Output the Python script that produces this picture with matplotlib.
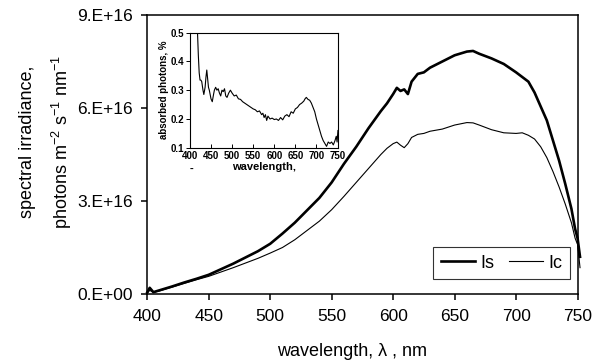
import matplotlib
matplotlib.use("Agg")
import matplotlib.pyplot as plt

plt.rcParams['font.family'] = ['Liberation Sans', 'DejaVu Sans']
plt.rcParams['mathtext.fontset'] = 'custom'
plt.rcParams['mathtext.rm'] = 'Liberation Sans'
plt.rcParams['mathtext.it'] = 'Liberation Sans:italic'

# main spectra (values in units of 1e16 photons m-2 s-1 nm-1)
wavelength = [400, 402, 405, 410, 420, 430, 440, 450, 460, 470, 480, 490, 500,
              510, 520, 530, 540, 550, 560, 570, 580, 590, 595, 600, 603, 606,
              609, 612, 615, 620, 625, 630, 640, 650, 660, 665, 670, 680, 690,
              700, 705, 710, 715, 720, 725, 730, 735, 740, 745, 748, 750, 752]
Is = [0.05, 0.2, 0.06, 0.12, 0.24, 0.37, 0.49, 0.62, 0.8, 0.98, 1.18, 1.38, 1.62,
      1.95, 2.3, 2.7, 3.1, 3.6, 4.2, 4.75, 5.35, 5.9, 6.15, 6.45, 6.65, 6.55,
      6.6, 6.45, 6.85, 7.1, 7.15, 7.3, 7.5, 7.7, 7.82, 7.84, 7.75, 7.6, 7.42,
      7.15, 7.0, 6.85, 6.5, 6.05, 5.6, 4.95, 4.3, 3.55, 2.75, 2.1, 1.8, 1.2]
Ic = [0.03, 0.12, 0.05, 0.1, 0.22, 0.34, 0.46, 0.57, 0.71, 0.85, 1.0, 1.15, 1.32,
      1.5, 1.75, 2.05, 2.35, 2.72, 3.15, 3.6, 4.05, 4.5, 4.7, 4.85, 4.9, 4.8,
      4.72, 4.85, 5.05, 5.15, 5.18, 5.25, 5.32, 5.45, 5.53, 5.52, 5.45, 5.3, 5.2,
      5.18, 5.2, 5.12, 5.0, 4.75, 4.4, 3.95, 3.45, 2.9, 2.3, 1.8, 1.6, 0.85]

# inset: absorbed photons
ins_wl = [418, 420, 422, 424, 426, 428, 431, 433, 436, 438, 440, 442, 444, 446,
          448, 450, 453, 456, 458, 461, 464, 467, 470, 473, 476, 479, 482, 485,
          488, 492, 496, 500, 505, 510, 515, 520, 525, 530, 535, 540, 545, 550,
          555, 560, 565, 570, 573, 576, 579, 582, 585, 590, 595, 600, 605, 610,
          615, 620, 625, 630, 635, 640, 645, 650, 655, 660, 665, 670, 673, 676,
          680, 684, 688, 692, 696, 700, 704, 708, 712, 716, 720, 724, 728, 732,
          736, 740, 744, 747, 749, 751]
ins_abs = [0.50, 0.42, 0.36, 0.335, 0.335, 0.33, 0.30, 0.285, 0.31, 0.345, 0.37,
           0.34, 0.31, 0.30, 0.285, 0.27, 0.26, 0.285, 0.30, 0.31, 0.30, 0.305,
           0.29, 0.28, 0.30, 0.295, 0.305, 0.28, 0.275, 0.29, 0.30, 0.29, 0.28,
           0.283, 0.27, 0.268, 0.26, 0.255, 0.25, 0.245, 0.24, 0.235, 0.232,
           0.225, 0.228, 0.215, 0.22, 0.205, 0.215, 0.195, 0.21, 0.20, 0.203,
           0.198, 0.20, 0.195, 0.205, 0.197, 0.21, 0.215, 0.208, 0.225, 0.22,
           0.235, 0.24, 0.25, 0.255, 0.262, 0.27, 0.275, 0.268, 0.265, 0.255,
           0.24, 0.225, 0.20, 0.18, 0.16, 0.14, 0.125, 0.115, 0.105, 0.12,
           0.115, 0.12, 0.11, 0.125, 0.14, 0.12, 0.16]

y_ticks = [0, 3e16, 6e16, 9e16]
y_tick_labels = ["0.E+00", "3.E+16", "6.E+16", "9.E+16"]
x_ticks = [400, 450, 500, 550, 600, 650, 700, 750]

fig = plt.figure(figsize=(6.01, 3.64), dpi=100)
ax = fig.add_axes([0.245, 0.1923, 0.716, 0.7665])

ax.plot(wavelength, [v * 1e16 for v in Is], color='black', lw=1.9, label='Is', clip_on=False)
ax.plot(wavelength, [v * 1e16 for v in Ic], color='black', lw=0.8, label='Ic', clip_on=False)

ax.set_xlim(400, 750)
ax.set_ylim(0, 9e16)
ax.set_xticks(x_ticks)
ax.set_yticks(y_ticks)
ax.set_yticklabels(y_tick_labels)
ax.tick_params(direction='out', length=4.5, width=1.1, labelsize=12.5, pad=6)
for s in ax.spines.values():
    s.set_linewidth(1.1)

fig.text(0.045, 0.61, "spectral irradiance,", rotation=90, fontsize=13,
         ha='center', va='center')
fig.text(0.103, 0.61, "photons m$^{-2}$ s$^{-1}$ nm$^{-1}$", rotation=90, fontsize=13,
         ha='center', va='center')
fig.text(0.585, 0.035, "wavelength, λ , nm", fontsize=13, ha='center', va='center')

leg = ax.legend(loc='lower right', bbox_to_anchor=(0.982, 0.054), ncol=2,
                fontsize=13, frameon=True, fancybox=False, borderaxespad=0,
                handlelength=1.9, handletextpad=0.3, columnspacing=0.8,
                borderpad=0.4)
leg.get_frame().set_edgecolor('black')
leg.get_frame().set_linewidth(0.8)

# inset
axi = fig.add_axes([0.316, 0.594, 0.247, 0.3165])
axi.plot(ins_wl, ins_abs, color='black', lw=0.8)
axi.set_xlim(400, 752)
axi.set_ylim(0.1, 0.5)
axi.set_xticks(x_ticks)
axi.set_yticks([0.1, 0.2, 0.3, 0.4, 0.5])
axi.tick_params(axis='x', direction='in', length=3, width=0.7, labelsize=7, pad=2)
axi.tick_params(axis='y', direction='out', length=3, width=0.7, labelsize=7, pad=1)
for lab in axi.get_xticklabels() + axi.get_yticklabels():
    lab.set_fontweight('bold')
for s in axi.spines.values():
    s.set_linewidth(0.8)
axi.set_ylabel("absorbed photons, %", fontsize=7, fontweight='bold', labelpad=1)
axi.set_xlabel("wavelength,", fontsize=8, fontweight='bold', labelpad=1)
fig.text(0.319, 0.535, "-", fontsize=8, fontweight='bold', ha='center', va='center')

fig.savefig("out.png", dpi=100)
